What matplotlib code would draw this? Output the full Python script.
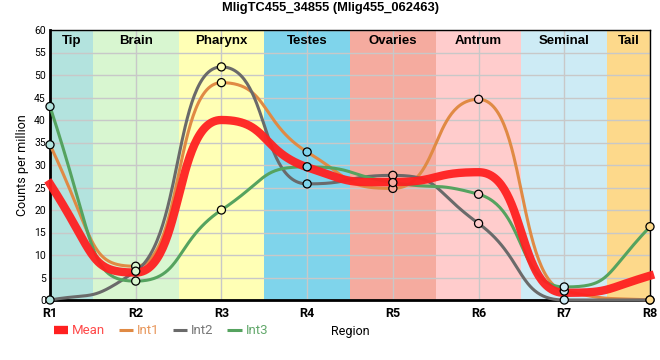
import numpy as np
import matplotlib
matplotlib.use("Agg")
import matplotlib.pyplot as plt
from matplotlib.lines import Line2D

regions = ["R1", "R2", "R3", "R4", "R5", "R6", "R7", "R8"]
mean = [25.8, 6.1, 40.0, 29.5, 26.2, 28.4, 1.6, 5.4]
int1 = [34.5, 7.5, 48.3, 32.9, 24.8, 44.6, 2.0, 0.0]
int2 = [0.0, 6.4, 51.8, 25.8, 27.7, 17.0, 0.0, 0.0]
int3 = [43.0, 4.2, 20.0, 29.6, 26.1, 23.5, 2.9, 16.3]

bands = ["Tip", "Brain", "Pharynx", "Testes", "Ovaries", "Antrum", "Seminal", "Tail"]
band_cols = ["#b3e3de", "#d8f6d0", "#ffffb5", "#7fd4eb", "#f5ab9f", "#ffcccc", "#cdebf5", "#fdd98b"]


def smooth(y, a=0.55, n=60):
    # bezier through the points, monotone tangents, long horizontal handles
    y = np.asarray(y, float)
    s = np.diff(y)
    t = np.zeros(len(y))
    for i in range(1, len(y) - 1):
        p = (s[i - 1] + s[i]) / 2
        t[i] = (np.sign(s[i - 1]) + np.sign(s[i])) * min(abs(s[i - 1]), abs(s[i]), 0.5 * abs(p))
    t[0] = (3 * s[0] - t[1]) / 2
    t[-1] = (3 * s[-1] - t[-2]) / 2
    u = np.linspace(0, 1, n)
    b0, b1, b2, b3 = (1 - u)**3, 3 * (1 - u)**2 * u, 3 * (1 - u) * u**2, u**3
    xs, ys = [], []
    for i in range(len(y) - 1):
        px = [i, i + a, i + 1 - a, i + 1]
        py = [y[i], y[i] + a * t[i], y[i + 1] - a * t[i + 1], y[i + 1]]
        xs.append(b0 * px[0] + b1 * px[1] + b2 * px[2] + b3 * px[3])
        ys.append(b0 * py[0] + b1 * py[1] + b2 * py[2] + b3 * py[3])
    return np.concatenate(xs), np.concatenate(ys)


fig = plt.figure(figsize=(6.6, 3.6), dpi=100)
ax = fig.add_axes([50 / 660, 60 / 360, 600 / 660, 270 / 360])

n = len(regions)
for i, (name, col) in enumerate(zip(bands, band_cols)):
    lo = max(i - 0.5, 0)
    hi = min(i + 0.5, n - 1)
    ax.axvspan(lo, hi, color=col, lw=0, zorder=0)
    ax.text((lo + hi) / 2, 57.6, name, ha="center", va="center", fontsize=9.5,
            fontweight="bold", family="Liberation Sans", zorder=5)

ax.set_xlim(0, n - 1)
ax.set_ylim(0, 60)
ax.set_yticks(np.arange(0, 61, 5))
ax.set_xticks(range(n))
ax.set_xticklabels(regions, fontweight="bold", fontsize=9, family="Roboto")
ax.tick_params(axis="y", labelsize=7.5, length=0, pad=3)
ax.tick_params(axis="x", length=0, pad=5)
for lab in ax.get_yticklabels():
    lab.set_family("Roboto")
ax.grid(True, color="#c8c8c8", lw=1, zorder=1)
ax.set_axisbelow(True)
for sp in ["left", "bottom"]:
    ax.spines[sp].set_linewidth(2)
for sp in ["top", "right"]:
    ax.spines[sp].set_linewidth(1)

series = [(int1, "#e08a44", "Int1"), (int2, "#6a6a6a", "Int2"), (int3, "#55a35f", "Int3")]
for vals, col, lab in series:
    xs, ys = smooth(vals)
    ax.plot(xs, ys, color=col, lw=2.2, zorder=3, clip_on=False)

xs, ys = smooth(mean)
ax.plot(xs, ys, color="#ff2020", lw=6, zorder=4, alpha=0.95, clip_on=False)

face = [band_cols[i] for i in range(n)]
for vals, col, lab in series:
    ax.scatter(range(n), vals, s=34, facecolors=face, edgecolors="black", linewidths=0.9,
               zorder=6, clip_on=False)

fig.suptitle("MligTC455_34855 (Mlig455_062463)", x=330 / 660, y=1 - 8 / 360, va="center",
             fontsize=9.3, fontweight="bold", family="Liberation Sans")
ax.set_ylabel("Counts per million", fontsize=9, family="Roboto", labelpad=4)

handles = [Line2D([], [], color="#ff2020", lw=6, solid_capstyle="butt"),
           Line2D([], [], color="#e08a44", lw=2.2, solid_capstyle="butt"),
           Line2D([], [], color="#6a6a6a", lw=2.2, solid_capstyle="butt"),
           Line2D([], [], color="#55a35f", lw=2.2, solid_capstyle="butt")]
leg_cols = ["#ff4a4a", "#e8965a", "#777777", "#62a86b"]
leg = fig.legend(handles, ["Mean", "Int1", "Int2", "Int3"], loc="center left",
                 bbox_to_anchor=(42 / 660, 1 - 331 / 360), ncol=4, frameon=False,
                 handlelength=1.1, handletextpad=0.3, columnspacing=1.0,
                 prop={"family": "Roboto", "size": 9.5})
for txt, c in zip(leg.get_texts(), leg_cols):
    txt.set_color(c)
fig.text(331 / 660, 1 - 331 / 360, "Region", ha="left", va="center", fontsize=9, family="Roboto")

fig.savefig("out.png", dpi=100)
